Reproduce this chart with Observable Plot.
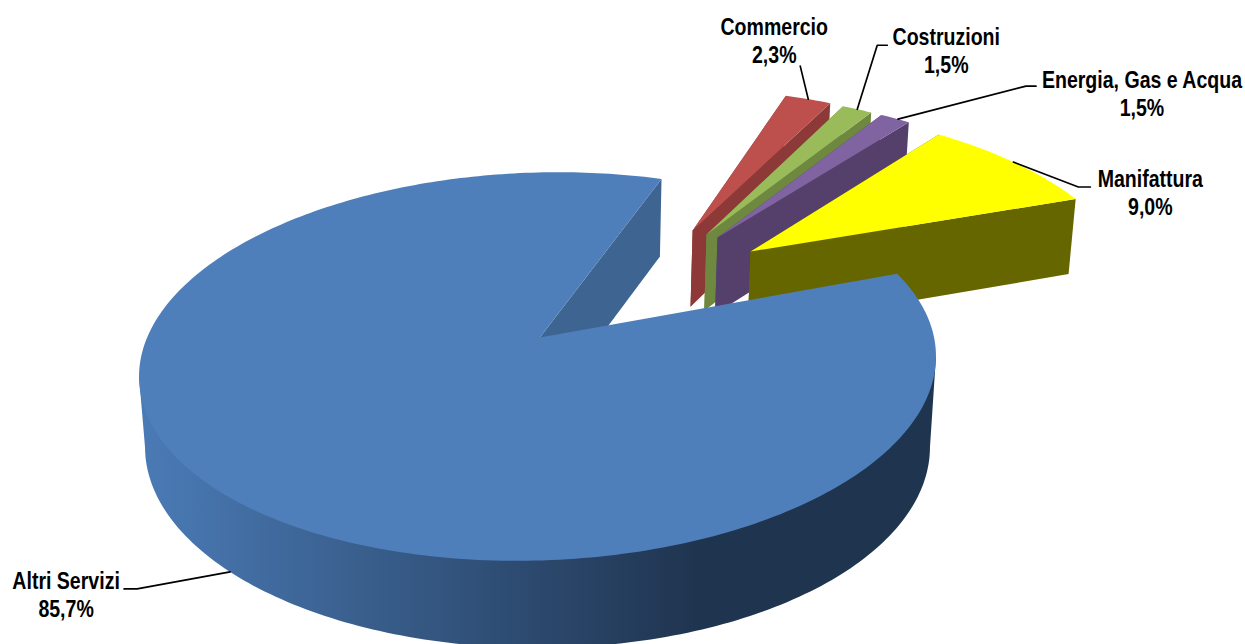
<!DOCTYPE html>
<html><head><meta charset="utf-8">
<style>html,body{margin:0;padding:0;background:#fff;overflow:hidden}svg{display:block}</style>
<script src="https://cdn.jsdelivr.net/npm/d3@7"></script>
<script src="https://cdn.jsdelivr.net/npm/@observablehq/plot@0.6"></script>
</head><body><div id="chart"></div>
<script>
// Data
const categories = ["Altri Servizi","Commercio","Costruzioni","Energia, Gas e Acqua","Manifattura"];
const shares = [85.7,2.3,1.5,1.5,9.0];
const shareLabels = ["85,7%","2,3%","1,5%","1,5%","9,0%"];

// Styles
const topColors = ["#4f7fbb","#bd504d","#9abb59","#8063a1","#ffff00"];
const faceColors = ["#3e6492","#8c3937","#6e883f","#54406a","#666600"];
const wallStops = ["#4a7ab5","#1f344f"];

// Layout: view model of the tilted disc
const view = {W:1245,H:644,x0:537,y0:337,A:189.7,B:394,k:0.1495,m:0.015,C:80,depthPow:0.55,shear:-10};
const startDeg = -17.5, explodedStart = -70, explodedSpan = 0.985;
const hubShift = [0.006,0,0,0,0];
const explodeX = [0,0.430,0.467,0.496,0.580];
const explodeY = [0,-0.616,-0.591,-0.572,-0.486];
const radius = [1,1.02,1.02,1.02,1.01];
const shearOn = [1,0,0,0,0];
const anchorT = [0.495,0.5,0.5,0.6,0.49];
const anchorZ = [1,0,0,0,0];
const labelOff = [[-164,22],[-34,-59],[89,-59],[244,-26],[137,30]];
const leaderOff = [
  [[-93,17],[-106,17]],
  [[-8,-33]],
  [[20,-64],[30,-64]],
  [[128,-33],[138,-33]],
  [[65,25],[77,25]]
];
const textFont = {family:"'Liberation Sans',Arial,sans-serif",size:23,squeeze:0.85,lineHeight:1.217};

function project(X,Y,Z,sh){
  const w = 1 - view.k*Y;
  return {
    x: view.x0 + view.B*X/(w + view.m*Z),
    y: view.y0 + (view.A*Y + view.shear*sh*X*(1-Z))/w + view.C*Z/Math.pow(w,view.depthPow)
  };
}
const rad = d => d*Math.PI/180;
let cum = explodedStart;
const slices = categories.map((name,i)=>{
  const span = shares[i]*3.6;
  if (i===0) return {i,name,a0:startDeg,a1:startDeg+span};
  const a0 = cum, a1 = a0 + span*explodedSpan;
  cum = a1;
  return {i,name,a0,a1};
});
const hub = (s,Z)=>project(explodeX[s.i]+hubShift[s.i],explodeY[s.i],Z,shearOn[s.i]);
const rim = (s,a,Z,r=radius[s.i])=>project(explodeX[s.i]+r*Math.cos(rad(a)),explodeY[s.i]+r*Math.sin(rad(a)),Z,shearOn[s.i]);
const arc = (s,from,to,Z,r)=>{
  const n = Math.max(2,Math.ceil(Math.abs(to-from)));
  return d3.range(n+1).map(j=>rim(s,from+(to-from)*j/n,Z,r));
};
const poly = (pts,fill)=>Plot.line(pts,{x:"x",y:"y",fill,stroke:"none"});
const radialFace = (s,a,fill)=>poly([hub(s,0),rim(s,a,0),rim(s,a,1),hub(s,1)],fill);
const topFace = s=>poly([hub(s,0),...arc(s,s.a0,s.a1,0)],topColors[s.i]);

const exploded = slices.slice(1).flatMap(s=>[
  radialFace(s,s.a1,faceColors[s.i]),
  radialFace(s,s.a0,faceColors[s.i]),
  topFace(s)
]);
const main = slices[0];
// The wall runs between the two points where the rim's outline turns vertical;
// its upper edge sits just under the top face so no pale seam shows.
const tangentDeg = Math.asin(view.k)*180/Math.PI;
const wallUpper = arc(main,tangentDeg,180-tangentDeg,0,0.97);
const wallBottom = arc(main,tangentDeg,180-tangentDeg,1);
const mainMarks = [
  radialFace(main,main.a1,faceColors[0]),
  poly([rim(main,tangentDeg,0),...wallUpper,rim(main,180-tangentDeg,0),...wallBottom.reverse()],"url(#wall)"),
  topFace(main)
];

const anchors = slices.map(s=>rim(s,s.a0+(s.a1-s.a0)*anchorT[s.i],anchorZ[s.i]));
const leaders = slices.map(s=>{
  const a = anchors[s.i];
  return [a,...leaderOff[s.i].map(([dx,dy])=>({x:a.x+dx,y:a.y+dy}))];
});
const labelRows = slices.map(s=>({
  x:anchors[s.i].x+labelOff[s.i][0],
  y:anchors[s.i].y+labelOff[s.i][1],
  text:s.name+"\n"+shareLabels[s.i]
}));

const defs = ()=>{
  const svgNS="http://www.w3.org/2000/svg";
  const d=document.createElementNS(svgNS,"defs");
  const g=document.createElementNS(svgNS,"linearGradient");
  g.setAttribute("id","wall");g.setAttribute("gradientUnits","userSpaceOnUse");
  g.setAttribute("x1",145);g.setAttribute("y1",0);g.setAttribute("x2",700);g.setAttribute("y2",0);
  wallStops.forEach((c,i)=>{const st=document.createElementNS(svgNS,"stop");st.setAttribute("offset",i);st.setAttribute("stop-color",c);g.appendChild(st);});
  d.appendChild(g);return d;
};

const chart = Plot.plot({
  width:view.W,height:view.H,margin:0,
  x:{domain:[0,view.W],range:[0,view.W],axis:null},
  y:{domain:[0,view.H],range:[0,view.H],axis:null},
  style:{background:"#fff"},
  marks:[
    defs,
    ...exploded,
    ...mainMarks,
    ...leaders.map(l=>Plot.line(l,{x:"x",y:"y",stroke:"#000",strokeWidth:1.7})),
    Plot.text(labelRows,{x:"x",y:"y",text:"text",fontFamily:textFont.family,fontWeight:700,fontSize:textFont.size,lineHeight:textFont.lineHeight,fill:"#000",textAnchor:"middle",lineAnchor:"middle"})
  ]
});
document.getElementById("chart").appendChild(chart);
// Narrow the bold sans to the condensed look of the original labels.
chart.querySelectorAll("text").forEach(t=>{
  const tr=t.getAttribute("transform")||"";
  t.setAttribute("transform",tr+" scale("+textFont.squeeze+",1)");
});
</script></body></html>
